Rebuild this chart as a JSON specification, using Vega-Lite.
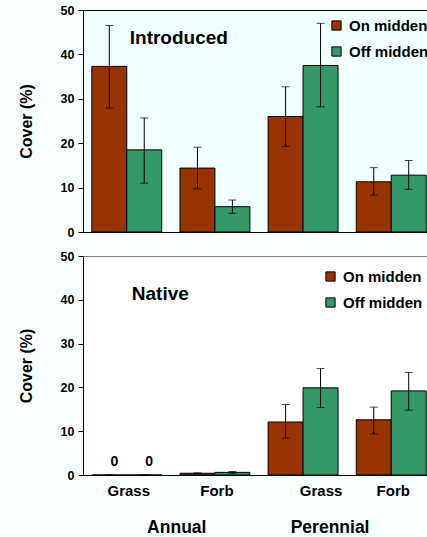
{
  "$schema": "https://vega.github.io/schema/vega-lite/v6.json",
  "background": "#F8FFFF",
  "padding": {"top": 3, "left": 17, "right": 0, "bottom": 0},
  "spacing": 10,
  "config": {
    "font": "Liberation Sans",
    "axis": {"grid": false, "domainColor": "#000", "tickColor": "#000", "labelColor": "#000", "titleColor": "#000", "labelFontWeight": "bold", "titleFontWeight": "bold"},
    "legend": {"labelFontSize": 15, "labelFontWeight": "bold", "labelColor": "#000", "symbolType": "square", "symbolSize": 85, "symbolStrokeColor": "#000", "symbolStrokeWidth": 1, "symbolOpacity": 1, "labelOffset": 5, "rowPadding": 10, "title": null}
  },
  "datasets": {
    "intro": [
      {"cat": "Annual Grass", "group": "On midden", "value": 37.3, "lo": 27.9, "hi": 46.5},
      {"cat": "Annual Grass", "group": "Off midden", "value": 18.5, "lo": 11.0, "hi": 25.7},
      {"cat": "Annual Forb", "group": "On midden", "value": 14.4, "lo": 9.7, "hi": 19.1},
      {"cat": "Annual Forb", "group": "Off midden", "value": 5.7, "lo": 4.2, "hi": 7.2},
      {"cat": "Perennial Grass", "group": "On midden", "value": 26.0, "lo": 19.3, "hi": 32.7},
      {"cat": "Perennial Grass", "group": "Off midden", "value": 37.5, "lo": 28.2, "hi": 47.0},
      {"cat": "Perennial Forb", "group": "On midden", "value": 11.3, "lo": 8.3, "hi": 14.5},
      {"cat": "Perennial Forb", "group": "Off midden", "value": 12.8, "lo": 9.6, "hi": 16.1}
    ],
    "native": [
      {"cat": "Annual Grass", "group": "On midden", "value": 0, "lo": 0, "hi": 0},
      {"cat": "Annual Grass", "group": "Off midden", "value": 0, "lo": 0, "hi": 0},
      {"cat": "Annual Forb", "group": "On midden", "value": 0.4, "lo": 0.3, "hi": 0.5},
      {"cat": "Annual Forb", "group": "Off midden", "value": 0.6, "lo": 0.4, "hi": 0.8},
      {"cat": "Perennial Grass", "group": "On midden", "value": 12.1, "lo": 8.4, "hi": 16.1},
      {"cat": "Perennial Grass", "group": "Off midden", "value": 19.9, "lo": 15.4, "hi": 24.3},
      {"cat": "Perennial Forb", "group": "On midden", "value": 12.6, "lo": 9.4, "hi": 15.5},
      {"cat": "Perennial Forb", "group": "Off midden", "value": 19.2, "lo": 14.8, "hi": 23.4}
    ]
  },
  "resolve": {"legend": {"color": "independent"}},
  "vconcat": [
    {
      "width": 352,
      "height": 222,
      "view": {"stroke": "#000", "fill": "#F0FFFF"},
      "data": {"name": "intro"},
      "encoding": {
        "x": {"field": "cat", "type": "nominal", "sort": ["Annual Grass", "Annual Forb", "Perennial Grass", "Perennial Forb"], "scale": {"paddingInner": 0.207, "paddingOuter": 0.1}, "axis": {"labels": false, "ticks": false, "title": null}}
      },
      "layer": [
        {
          "mark": {"type": "bar", "stroke": "#000", "strokeWidth": 1},
          "encoding": {
            "xOffset": {"field": "group", "type": "nominal", "sort": ["On midden", "Off midden"]},
            "y": {"field": "value", "type": "quantitative", "title": "Cover (%)", "scale": {"domain": [0, 50], "nice": false}, "axis": {"values": [0, 10, 20, 30, 40, 50], "tickSize": 5, "labelFontSize": 12.5, "labelPadding": 4, "titleFontSize": 16, "titlePadding": 26}},
            "color": {"field": "group", "type": "nominal", "scale": {"domain": ["On midden", "Off midden"], "range": ["#993300", "#339966"]}, "legend": {"orient": "none", "legendX": 246, "legendY": 8}}
          }
        },
        {
          "mark": {"type": "rule", "color": "#000", "strokeWidth": 1},
          "encoding": {
            "xOffset": {"field": "group", "type": "nominal", "sort": ["On midden", "Off midden"]},
            "y": {"field": "lo", "type": "quantitative", "title": "Cover (%)"},
            "y2": {"field": "hi"}
          }
        },
        {
          "mark": {"type": "tick", "color": "#000", "size": 8, "thickness": 1},
          "encoding": {
            "xOffset": {"field": "group", "type": "nominal", "sort": ["On midden", "Off midden"]},
            "y": {"field": "lo", "type": "quantitative", "title": "Cover (%)"}
          }
        },
        {
          "mark": {"type": "tick", "color": "#000", "size": 8, "thickness": 1},
          "encoding": {
            "xOffset": {"field": "group", "type": "nominal", "sort": ["On midden", "Off midden"]},
            "y": {"field": "hi", "type": "quantitative", "title": "Cover (%)"}
          }
        },
        {
          "data": {"values": [{"label": "Introduced"}]},
          "mark": {"type": "text", "align": "left", "baseline": "middle", "dx": 3, "fontSize": 19, "fontWeight": "bold", "color": "#000"},
          "encoding": {
            "x": {"datum": "Annual Grass"},
            "y": {"datum": 43.8},
            "text": {"field": "label"}
          }
        }
      ]
    },
    {
      "width": 352,
      "height": 219,
      "view": {"stroke": "#808080", "fill": "#FFFFFF"},
      "data": {"name": "native"},
      "encoding": {
        "x": {"field": "cat", "type": "nominal", "sort": ["Annual Grass", "Annual Forb", "Perennial Grass", "Perennial Forb"], "scale": {"paddingInner": 0.207, "paddingOuter": 0.1}, "axis": {"ticks": false, "title": null, "labelAngle": 0, "labelFontSize": 15, "labelPadding": 8, "labelExpr": "split(datum.label, ' ')[1]", "labelOffset": {"condition": {"test": "datum.value === 'Perennial Grass'", "value": 18}, "value": 2}}}
      },
      "layer": [
        {
          "mark": {"type": "bar", "stroke": "#000", "strokeWidth": 1},
          "encoding": {
            "xOffset": {"field": "group", "type": "nominal", "sort": ["On midden", "Off midden"]},
            "y": {"field": "value", "type": "quantitative", "title": "Cover (%)", "scale": {"domain": [0, 50], "nice": false}, "axis": {"values": [0, 10, 20, 30, 40, 50], "tickSize": 5, "labelFontSize": 12.5, "labelPadding": 4, "titleFontSize": 16, "titlePadding": 26}},
            "color": {"field": "group", "type": "nominal", "scale": {"domain": ["On midden", "Off midden"], "range": ["#993300", "#339966"]}, "legend": {"orient": "none", "legendX": 240, "legendY": 13}}
          }
        },
        {
          "mark": {"type": "rule", "color": "#000", "strokeWidth": 1},
          "encoding": {
            "xOffset": {"field": "group", "type": "nominal", "sort": ["On midden", "Off midden"]},
            "y": {"field": "lo", "type": "quantitative", "title": "Cover (%)"},
            "y2": {"field": "hi"}
          }
        },
        {
          "mark": {"type": "tick", "color": "#000", "size": 8, "thickness": 1},
          "encoding": {
            "xOffset": {"field": "group", "type": "nominal", "sort": ["On midden", "Off midden"]},
            "y": {"field": "lo", "type": "quantitative", "title": "Cover (%)"}
          }
        },
        {
          "mark": {"type": "tick", "color": "#000", "size": 8, "thickness": 1},
          "encoding": {
            "xOffset": {"field": "group", "type": "nominal", "sort": ["On midden", "Off midden"]},
            "y": {"field": "hi", "type": "quantitative", "title": "Cover (%)"}
          }
        },
        {
          "transform": [{"filter": "datum.value === 0"}],
          "mark": {"type": "text", "baseline": "bottom", "dx": 5, "dy": -6, "fontSize": 14, "fontWeight": "bold", "color": "#000"},
          "encoding": {
            "xOffset": {"field": "group", "type": "nominal", "sort": ["On midden", "Off midden"]},
            "y": {"field": "value", "type": "quantitative", "title": "Cover (%)"},
            "text": {"field": "value", "type": "quantitative"}
          }
        },
        {
          "data": {"values": [{"label": "Native"}]},
          "mark": {"type": "text", "align": "left", "baseline": "middle", "dx": 5, "fontSize": 19, "fontWeight": "bold", "color": "#000"},
          "encoding": {
            "x": {"datum": "Annual Grass"},
            "y": {"datum": 41.3},
            "text": {"field": "label"}
          }
        },
        {
          "data": {"values": [{"label": "Annual"}]},
          "mark": {"type": "text", "align": "center", "baseline": "middle", "dx": 50, "fontSize": 17.5, "fontWeight": "bold", "color": "#000"},
          "encoding": {
            "x": {"datum": "Annual Grass"},
            "y": {"datum": -12.1},
            "text": {"field": "label"}
          }
        },
        {
          "data": {"values": [{"label": "Perennial"}]},
          "mark": {"type": "text", "align": "center", "baseline": "middle", "dx": 27, "fontSize": 17.5, "fontWeight": "bold", "color": "#000"},
          "encoding": {
            "x": {"datum": "Perennial Grass"},
            "y": {"datum": -12.1},
            "text": {"field": "label"}
          }
        }
      ]
    }
  ]
}
